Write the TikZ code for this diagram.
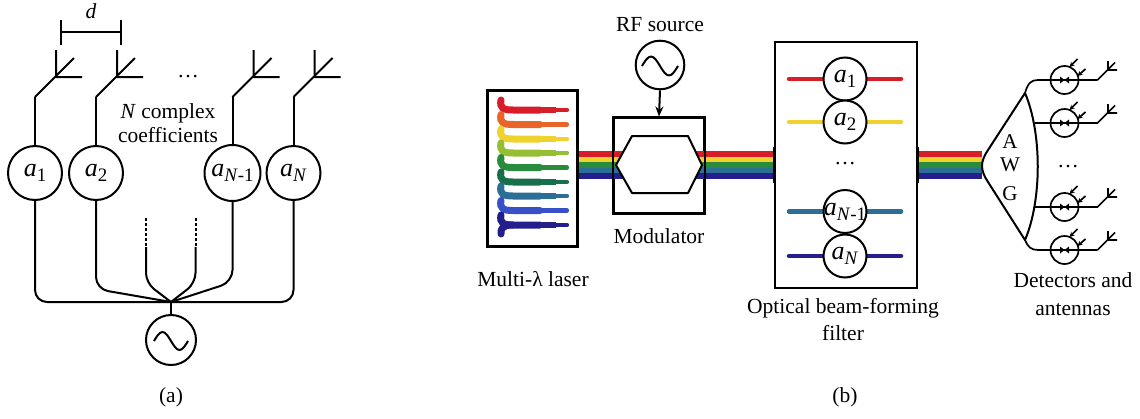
\documentclass[tikz,border=0pt]{standalone}
\usepackage{fontspec}
\setmainfont{Liberation Serif}
\usetikzlibrary{arrows.meta,calc}

% wavelength colours
\definecolor{wRed}{RGB}{215,30,40}
\definecolor{wOrange}{RGB}{232,100,40}
\definecolor{wYellow}{RGB}{240,210,45}
\definecolor{wLime}{RGB}{150,190,50}
\definecolor{wGreen}{RGB}{40,140,60}
\definecolor{wDkGreen}{RGB}{25,110,75}
\definecolor{wTeal}{RGB}{45,110,150}
\definecolor{wBlue}{RGB}{55,80,200}
\definecolor{wNavy}{RGB}{35,30,140}

% coefficient label: italic a with a subscript
\newcommand\acoef[1]{\textit{a}\raisebox{-5pt}{\fontsize{19}{19}\selectfont #1}}

% five-colour fibre bundle between two named points
\newcommand\fiberbundle[2]{%
  \foreach \bc/\bo in {wRed/11,wYellow/5.5,wGreen/0,wTeal/-5.5,wNavy/-11}{%
    \draw[line width=5.6pt,\bc] ([yshift=\bo pt]#1) -- ([yshift=\bo pt]#2);}}

\tikzset{
  wire/.style={line width=2pt, line join=round},
  thinwire/.style={line width=1.7pt, line join=round},
  lbl/.style={font=\fontsize{21.5}{24}\selectfont, inner sep=0pt, anchor=base},
  coefc/.style={circle, draw, line width=2pt, fill=white, inner sep=0pt},
  coeft/.style={font=\fontsize{26}{28}\selectfont, inner sep=0pt},
  boxn/.style={draw, line width=2pt, inner sep=0pt},
  detc/.style={circle, draw, line width=1.7pt, inner sep=0pt, minimum size=28pt},
  photon/.style={thinwire, -{Stealth[length=5pt,width=5pt]}},
  endbar/.style={line width=2.6pt},
  antbig/.pic={\draw[wire] (0,0) -- (39,-39) (21,-47) -- (21,-20) -- (47,-20);},
  antsmall/.pic={\draw[thinwire] (0,0) -- (17.5,-17.5) (10.5,-19) -- (10.5,-10) -- (19.5,-10);},
}

\begin{document}
\begin{tikzpicture}[x=1pt,y=-1pt]
\useasboundingbox (0,0) rectangle (1140,418);

% ================= (a) conventional array =================
% element spacing
\draw[wire] (60.5,20) -- (60.5,45) (60.5,32) -- (121,32) (121,20) -- (121,45);
\node[lbl] (dLbl) at (91,18) {\textit{d}};

% antenna elements
\foreach \n/\x in {1/35,2/96,3/232.5,4/293.5}{
  \coordinate (feed\n) at (\x,97);
  \pic at (feed\n) {antbig};
}
\node[lbl] (dotsA) at (188,77) {\dots};

% complex coefficients
\node[coefc, minimum size=54pt] (a1) at (35,173) {};
\node[coefc, minimum size=54pt] (a2) at (96,173) {};
\node[coefc, minimum size=56pt] (a3) at (232.5,173) {};
\node[coefc, minimum size=54pt] (a4) at (293.5,173) {};
\node[coeft] (a1t) at (a1) {\acoef{1}};
\node[coeft] (a2t) at (a2) {\acoef{2}};
\node[coeft] (a3t) at (a3) {\acoef{\textit{N}-1}};
\node[coeft] (a4t) at (a4) {\acoef{\textit{N}}};
\foreach \n in {1,2,3,4}{\draw[wire] (feed\n) -- (a\n.north);}

\node[lbl] (cLbl1) at (168,118.3) {\textit{N} complex};
\node[lbl] (cLbl2) at (168,142.7) {coefficients};

% feed network
\coordinate (hub) at (171,302);
\coordinate (dm1) at (146,218);
\coordinate (dm2) at (195.5,218);
\draw[wire, rounded corners=12pt] (a1.south) -- (35,302) -- (hub);
\draw[wire, rounded corners=12pt] (a4.south) -- (293.5,302) -- (hub);
\draw[wire, rounded corners=12pt] (a2.south) -- (96,289) -- (hub);
\draw[wire, rounded corners=12pt] (a3.south) -- (232.5,282) -- (hub);
\draw[wire, dash pattern=on 3pt off 2pt] (dm1) -- ++(0,29);
\draw[wire, dash pattern=on 3pt off 2pt] (dm2) -- ++(0,29);
\draw[wire, rounded corners=10pt] ($(dm1)+(0,29)$) -- (146,283) -- (hub);
\draw[wire, rounded corners=10pt] ($(dm2)+(0,29)$) -- (195.5,283) -- (hub);

% local oscillator
\node[circle, draw, line width=2pt, minimum size=50pt, inner sep=0pt] (osc) at (171,340) {};
\draw[wire] (hub) -- (osc.north);
\draw[wire] ($(osc)+(-17,1)$) sin ++(8.5,-9) cos ++(8.5,9) sin ++(8.5,9) cos ++(8.5,-9);

\node[lbl] (capA) at (171,402) {(a)};

% ================= (b) photonic beam former =================
% multi-wavelength laser: a serpentine of tapered strokes
\node[boxn, minimum width=89pt, minimum height=155pt] (laser) at (532.5,168.5) {};
\foreach \yy/\cc in {110/wRed,124.5/wOrange,139/wYellow,153/wLime,167.5/wGreen,182/wDkGreen,196/wTeal,210.5/wBlue,225/wNavy}{
  \draw[line width=7pt, line cap=round, \cc] (501,\yy-10) .. controls (499.5,\yy-2) and (503,\yy) .. (513,\yy) -- (540,\yy);
  \draw[line width=5.6pt, \cc] (539,\yy) -- (556,\yy);
  \draw[line width=4.2pt, line cap=round, \cc] (555,\yy) -- (567,\yy);
}
\draw[line width=7pt, line cap=round, wNavy] (513,225) .. controls (503,225) and (500.5,228) .. (501,234);
\node[lbl] (lasLbl) at (533,286.7) {Multi-λ laser};

% modulator and RF drive
\node[boxn, minimum width=90pt, minimum height=95pt] (mod) at (659,165) {};
\node[circle, draw, line width=2pt, minimum size=48.6pt, inner sep=0pt] (rf) at (660,65) {};
\draw[wire] ($(rf)+(-18,1)$) sin ++(9,-9.5) cos ++(9,9.5) sin ++(9,9.5) cos ++(9,-9.5);
\draw[wire, -{Stealth[length=10pt,width=8pt]}] (rf.south) -- (mod.north);
\node[lbl] (rfLbl) at (660,31.7) {RF source};
\node[lbl] (modLbl) at (659,243.3) {Modulator};

% optical beam-forming filter
\node[boxn, minimum width=142pt, minimum height=246pt] (filt) at (846,165) {};

% fibre bundles
\coordinate (lasOut) at (laser.east |- mod.west);
\coordinate (awgIn) at (982,165);
\fiberbundle{lasOut}{mod.center}
\fiberbundle{mod.center}{filt.west}
\fiberbundle{filt.east}{awgIn}

% Mach-Zehnder outline
\draw[wire, fill=white] (632,136) -- (688,136) -- (702,165) -- (688,193) -- (632,193) -- (616,165) -- cycle;
\draw[line width=2pt] (mod.south west) rectangle (mod.north east);
\draw[line width=2pt] (laser.south west) rectangle (laser.north east);

% fibre end faces
\foreach \p in {mod.west,mod.east,filt.west,filt.east}{
  \draw[endbar] ([yshift=18pt]\p) -- ([yshift=-18pt]\p);
}

% weighted channels inside the filter
\foreach \n/\yy/\cc in {1/79/wRed,2/122/wYellow,3/211.5/wTeal,4/256/wNavy}{
  \draw[line width=4.5pt, line cap=round, \cc] (789,\yy) -- (901,\yy);
  \node[coefc, minimum size=43pt] (f\n) at (845,\yy) {};
}
\node[coeft] (f1t) at (f1) {\acoef{1}};
\node[coeft] (f2t) at (f2) {\acoef{2}};
\node[coeft] (f3t) at (f3) {\acoef{\textit{N}-1}};
\node[coeft] (f4t) at (f4) {\acoef{\textit{N}}};
\node[lbl] (dotsF) at (845,164.5) {\dots};
\node[lbl] (filLbl1) at (843,313.3) {Optical beam-forming};
\node[lbl] (filLbl2) at (843,340) {filter};

% arrayed waveguide grating
\draw[wire] (1025,93) -- (988,150) .. controls (980,162) and (980,170) .. (988,182) -- (1025,240)
            .. controls (1042,200) and (1042,133) .. (1025,93);
\node[lbl, font=\fontsize{21}{24}\selectfont] (awgA) at (1010,148.3) {A};
\node[lbl, font=\fontsize{21}{24}\selectfont] (awgW) at (1010,171.7) {W};
\node[lbl, font=\fontsize{21}{24}\selectfont] (awgG) at (1010,200) {G};

% detectors and radiating elements
\coordinate (awg1) at (1025,93);
\coordinate (awg2) at (1034.5,123);
\coordinate (awg3) at (1034.5,207);
\coordinate (awg4) at (1025,240);
\foreach \n/\yy in {1/80,2/123,3/207,4/250}{
  \node[detc] (det\n) at (1064.5,\yy) {};
  \coordinate (out\n) at (1097.5,\yy);
  \fill ($(det\n)+(-4.5,-3.5)$) -- ($(det\n)+(4.5,3.5)$) -- ($(det\n)+(4.5,-3.5)$) -- ($(det\n)+(-4.5,3.5)$) -- cycle;
  \draw[photon] ($(det\n)+(13,-21)$) -- ($(det\n)+(5,-13)$);
  \draw[photon] ($(det\n)+(21,-11)$) -- ($(det\n)+(13,-4)$);
  \pic at (out\n) {antsmall};
}
\draw[thinwire] (awg1) .. controls (1028,83) and (1031,80) .. (1038,80) -- (det1.center) -- (out1);
\draw[thinwire] (awg2) -- (det2.center) -- (out2);
\draw[thinwire] (awg3) -- (det3.center) -- (out3);
\draw[thinwire] (awg4) .. controls (1028,247) and (1031,250) .. (1038,250) -- (det4.center) -- (out4);
\node[lbl] (dotsD) at (1068,167) {\dots};
\node[lbl] (detLbl1) at (1073,287.3) {Detectors and};
\node[lbl] (detLbl2) at (1073,315) {antennas};

\node[lbl] (capB) at (845,402) {(b)};
\end{tikzpicture}
\end{document}
